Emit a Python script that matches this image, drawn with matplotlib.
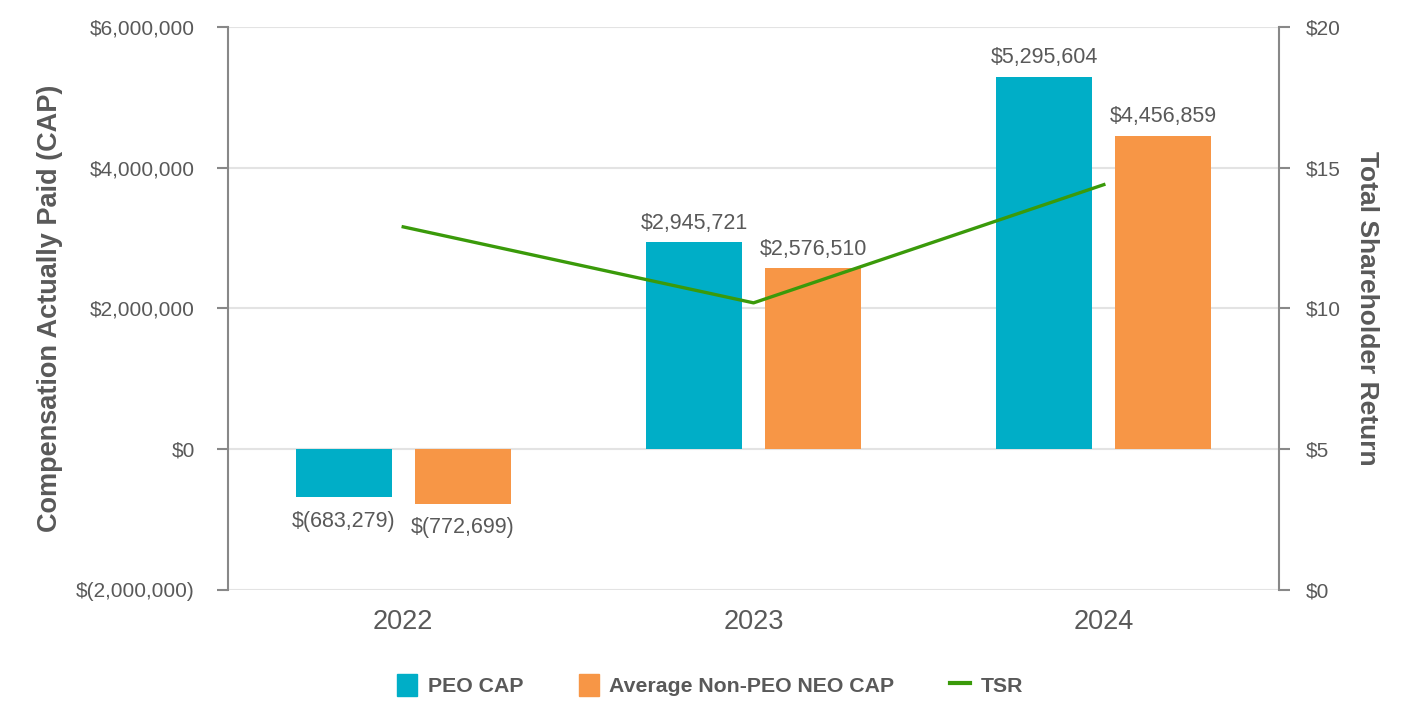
import numpy as np
import matplotlib.pyplot as plt
from matplotlib.patches import Patch
from matplotlib.lines import Line2D

years = ["2022", "2023", "2024"]
peo_cap = [-683279, 2945721, 5295604]
neo_cap = [-772699, 2576510, 4456859]
tsr = [12.9, 10.2, 14.4]

teal = "#00AEC7"
orange = "#F79646"
green = "#3A9A0A"
txt = "#595959"

plt.rcParams["font.family"] = ["Liberation Sans", "DejaVu Sans"]

fig = plt.figure(figsize=(14.2, 7.28), dpi=100)
ax = fig.add_axes([0.1606, 0.1896, 0.7401, 0.7733])
x = np.arange(len(years))
w = 0.274
off = 0.170

ax.bar(x - off, peo_cap, w, color=teal, zorder=2)
ax.bar(x + off, neo_cap, w, color=orange, zorder=2)


def fmt(v):
    return "${:,}".format(v) if v >= 0 else "$({:,})".format(-v)


for xs, vals in ((x - off, peo_cap), (x + off, neo_cap)):
    for xi, v in zip(xs, vals):
        if v >= 0:
            ax.annotate(fmt(v), (xi, v), xytext=(0, 6), textcoords="offset points",
                        ha="center", va="bottom", fontsize=15.5, color=txt)
        else:
            ax.annotate(fmt(v), (xi, v), xytext=(0, -10), textcoords="offset points",
                        ha="center", va="top", fontsize=15.5, color=txt)

ax.set_xlim(-0.5, 2.5)
ax.set_ylim(-2000000, 6000000)
ticks = np.arange(-2000000, 6000001, 2000000)
ax.set_yticks(ticks)
ax.set_yticklabels([fmt(int(v)) for v in ticks])
ax.set_xticks(x)
ax.set_xticklabels(years)
ax.tick_params(axis="x", length=0, labelsize=19.5, labelcolor=txt, pad=14)
ax.tick_params(axis="y", length=8, width=1.5, color="#888888", labelsize=15,
               labelcolor=txt, pad=16)
ax.grid(axis="y", color="#E3E3E3", linewidth=1.5, zorder=0)
for s in ("top", "right", "bottom"):
    ax.spines[s].set_visible(False)
ax.spines["left"].set_color("#888888")
ax.spines["left"].set_linewidth(1.5)
ax.set_ylabel("Compensation Actually Paid (CAP)", fontsize=19.5, fontweight="bold",
              color=txt, labelpad=9)

ax2 = ax.twinx()
ax2.plot(x, tsr, color=green, linewidth=2.4, zorder=3)
ax2.set_ylim(0, 20)
ax2.set_yticks([0, 5, 10, 15, 20])
ax2.set_yticklabels(["$0", "$5", "$10", "$15", "$20"])
ax2.tick_params(axis="y", length=8, width=1.5, color="#888888", labelsize=15,
                labelcolor=txt, pad=11)
for s in ("top", "left", "bottom"):
    ax2.spines[s].set_visible(False)
ax2.spines["right"].set_color("#888888")
ax2.spines["right"].set_linewidth(1.5)
ax2.set_ylabel("Total Shareholder Return", fontsize=19, fontweight="bold",
               color=txt, rotation=270, labelpad=28)

handles = [Patch(color=teal, label="PEO CAP"),
           Patch(color=orange, label="Average Non-PEO NEO CAP"),
           Line2D([0], [0], color=green, linewidth=3, label="TSR")]
fig.legend(handles=handles, loc="center", bbox_to_anchor=(0.5, 0.059), ncol=3,
           frameon=False, prop={"size": 15.3, "weight": "bold"}, labelcolor=txt,
           handlelength=0.95, handleheight=1.2, columnspacing=2.6, handletextpad=0.5)

fig.savefig("out.png", dpi=100)
